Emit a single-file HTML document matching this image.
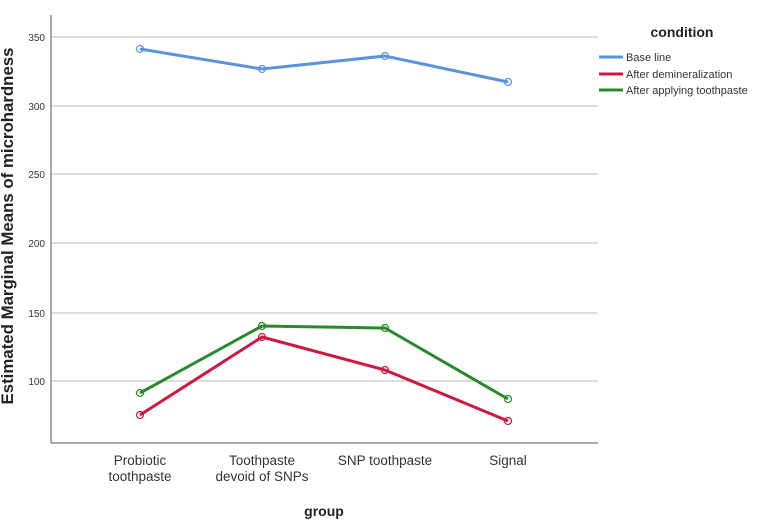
<!DOCTYPE html>
<html><head><style>body{margin:0;background:#fff}</style></head><body>
<svg width="771" height="521" xmlns="http://www.w3.org/2000/svg" font-family="Liberation Sans, sans-serif">
<rect width="771" height="521" fill="#fff"/>
<g stroke="#c8c8c8" stroke-width="1.3">
<line x1="51" x2="598" y1="37" y2="37"/><line x1="51" x2="598" y1="106" y2="106"/>
<line x1="51" x2="598" y1="174" y2="174"/><line x1="51" x2="598" y1="243" y2="243"/>
<line x1="51" x2="598" y1="313" y2="313"/><line x1="51" x2="598" y1="381" y2="381"/>
</g>
<line x1="51" y1="15" x2="51" y2="443" stroke="#777" stroke-width="1.3"/>
<line x1="51" y1="443" x2="598" y2="443" stroke="#777" stroke-width="1.3"/>
<g font-size="10" fill="#333" text-anchor="end">
<text x="45" y="41">350</text><text x="45" y="110">300</text><text x="45" y="178">250</text>
<text x="45" y="247">200</text><text x="45" y="317">150</text><text x="45" y="385">100</text>
</g>
<text transform="translate(13,226) rotate(-90)" font-size="16.5" font-weight="bold" text-anchor="middle" fill="#222" textLength="357" lengthAdjust="spacingAndGlyphs">Estimated Marginal Means of microhardness</text>
<g font-size="13.5" fill="#333" text-anchor="middle">
<text x="140" y="465">Probiotic</text><text x="140" y="481">toothpaste</text>
<text x="262" y="465">Toothpaste</text><text x="262" y="481">devoid of SNPs</text>
<text x="385" y="465">SNP toothpaste</text>
<text x="508" y="465">Signal</text>
</g>
<text x="324" y="516" font-size="14" font-weight="bold" text-anchor="middle" fill="#222">group</text>
<g fill="none" stroke-width="3">
<polyline stroke="#5b93dc" points="140,49 262,69 385,56 508,82"/>
<polyline stroke="#d0173f" points="140,415 262,337 385,370 508,421"/>
<polyline stroke="#2a8a2a" points="140,393 262,326 385,328 508,399"/>
</g>
<g fill="none" stroke-width="1.2">
<g stroke="#5b93dc"><circle cx="140" cy="49" r="3.5"/><circle cx="262" cy="69" r="3.5"/><circle cx="385" cy="56" r="3.5"/><circle cx="508" cy="82" r="3.5"/></g>
<g stroke="#d0173f"><circle cx="140" cy="415" r="3.5"/><circle cx="262" cy="337" r="3.5"/><circle cx="385" cy="370" r="3.5"/><circle cx="508" cy="421" r="3.5"/></g>
<g stroke="#2a8a2a"><circle cx="140" cy="393" r="3.5"/><circle cx="262" cy="326" r="3.5"/><circle cx="385" cy="328" r="3.5"/><circle cx="508" cy="399" r="3.5"/></g>
</g>
<text x="682" y="37" font-size="14" font-weight="bold" text-anchor="middle" fill="#222">condition</text>
<g stroke-width="3"><line x1="599" x2="623" y1="57" y2="57" stroke="#5b93dc"/>
<line x1="599" x2="623" y1="74" y2="74" stroke="#d0173f"/>
<line x1="599" x2="623" y1="90" y2="90" stroke="#2a8a2a"/></g>
<g font-size="11" fill="#333"><text x="626" y="61">Base line</text><text x="626" y="78">After demineralization</text><text x="626" y="94">After applying toothpaste</text></g>
</svg>
</body></html>
